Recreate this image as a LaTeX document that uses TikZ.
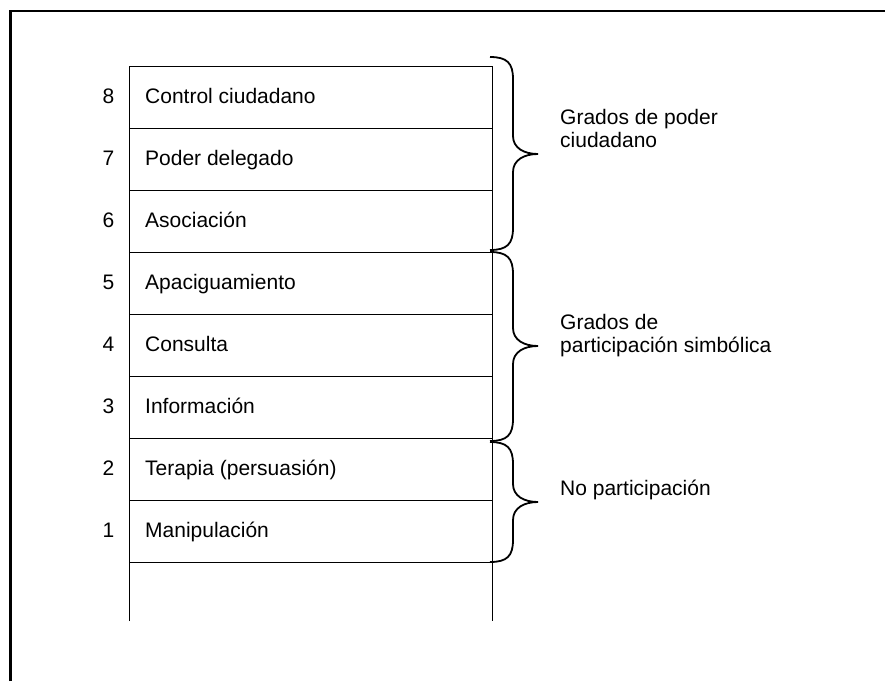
\documentclass[tikz,border=0pt]{standalone}
\usepackage{fontspec}
\setmainfont{Liberation Sans}
\newcommand\ladderbrace[3]{%
  \draw[bracestyle] (490,#1) .. controls (507,#1) and (513,#1+6) .. (513,#1+22)
    -- (513,#3-18) .. controls (513,#3-6) and (524,#3) .. (538,#3)
    .. controls (524,#3) and (513,#3+6) .. (513,#3+18)
    -- (513,#2-22) .. controls (513,#2-6) and (507,#2) .. (490,#2);}
\begin{document}
\begin{tikzpicture}[x=1pt,y=-1pt,
  txt/.style={font=\fontsize{21}{23}\selectfont, inner sep=0pt, anchor=base west},
  num/.style={font=\fontsize{21}{23}\selectfont, inner sep=0pt, anchor=base},
  lbl/.style={font=\fontsize{21}{23}\selectfont, inner sep=0pt, anchor=base west, align=left},
  rung/.style={line width=1.2pt},
  bracestyle/.style={line width=1.8pt},
  framestyle/.style={line width=2.2pt}]
\useasboundingbox (0,0) rectangle (885,681);
% frame
\draw[framestyle] (10.5,681) -- (10.5,11) -- (885,11);
% ladder
\draw[rung] (129.5,621) -- (129.5,66.5) -- (492.5,66.5) -- (492.5,621);
\foreach \k in {1,...,8} {
  \draw[rung] (129.5,66.5+62*\k) -- (492.5,66.5+62*\k);
}
% rows
\foreach \n/\t [count=\i from 0] in {8/Control ciudadano,7/Poder delegado,6/Asociación,5/Apaciguamiento,4/Consulta,3/Información,2/Terapia (persuasión),1/Manipulación} {
  \node[num] (n\n) at (108.5,103.5+62*\i) {\n};
  \node[txt] (t\n) at (145,103.5+62*\i) {\t};
}
% braces
\ladderbrace{57}{250}{154}
\ladderbrace{252}{441}{346}
\ladderbrace{442}{562}{502}
% labels (base anchor = last line)
\node[lbl] (g1) at (560,147) {Grados de poder\\ciudadano};
\node[lbl] (g2) at (560,352.5) {Grados de\\participación simbólica};
\node[lbl] (g3) at (560,495) {No participación};
\end{tikzpicture}
\end{document}
